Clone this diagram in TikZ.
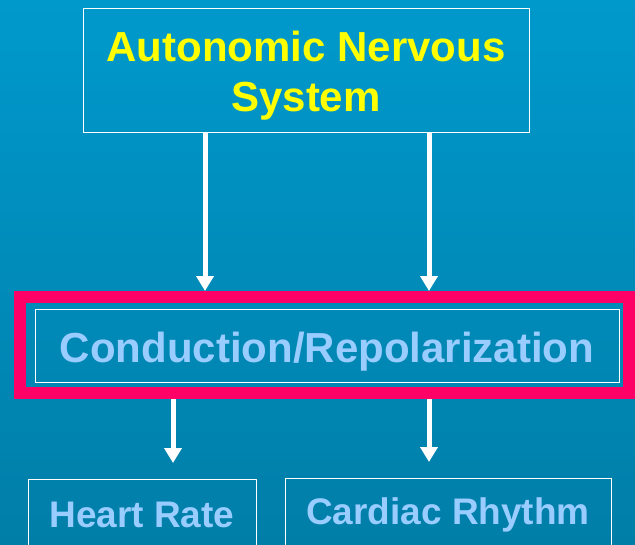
\documentclass[tikz,border=0pt]{standalone}
\usepackage{fontspec}
\setmainfont{Liberation Sans}
\usepackage{xcolor}
\usepackage{tikz}
\usetikzlibrary{positioning, arrows.meta, calc}
\definecolor{bgtop}{HTML}{0099CC}
\definecolor{bgbottom}{HTML}{007EA8}
\definecolor{ansyellow}{HTML}{FFFF00}
\definecolor{framered}{HTML}{FF0066}
\definecolor{paleblue}{HTML}{99CCFF}
\tikzset{
  box/.style={draw=white, line width=1pt, inner sep=0pt, font=\bfseries\fontsize{42}{50}\selectfont},
  smallbox/.style={box, text=paleblue, anchor=north, inner ysep=0pt, text depth=40pt, font=\bfseries\fontsize{37}{44}\selectfont},
  arr/.style={draw=white, line width=5pt, -{Triangle[width=17pt, length=15pt]}},
}

\begin{document}
\begin{tikzpicture}[x=1pt, y=-1pt]
    \clip (0,0) rectangle (635,544);
    \shade[top color=bgtop, bottom color=bgbottom] (0,0) rectangle (635,544);

    \node[box, text=ansyellow, align=center, minimum width=446pt, anchor=north, text height=103pt, text depth=21pt] (ans) at (306,8) {Autonomic Nervous\\System};
    \node[draw=framered, line width=12pt, minimum width=609pt, minimum height=96pt] (frame) at (324.5,345) {};
    \node[box, text=paleblue, minimum width=584pt, anchor=north, text height=53pt, text depth=20pt] (cond) at (327,309) {Conduction/Repolarization};
    \node[smallbox, minimum width=228pt, text height=48pt] (rate) at (142,479) {Heart Rate};
    \node[smallbox, minimum width=326pt, text height=46pt] (rhythm) at (448,478) {Cardiac Rhythm};

    \draw[arr] (ans.south -| 205,0) -- (frame.north -| 205,0);
    \draw[arr] (ans.south -| 429,0) -- (frame.north -| 429,0);
    \draw[arr, shorten >=16pt] (frame.south -| 173,0) -- (rate.north -| 173,0);
    \draw[arr, shorten >=16pt] (frame.south -| 429,0) -- (rhythm.north -| 429,0);
  \end{tikzpicture}
\end{document}
